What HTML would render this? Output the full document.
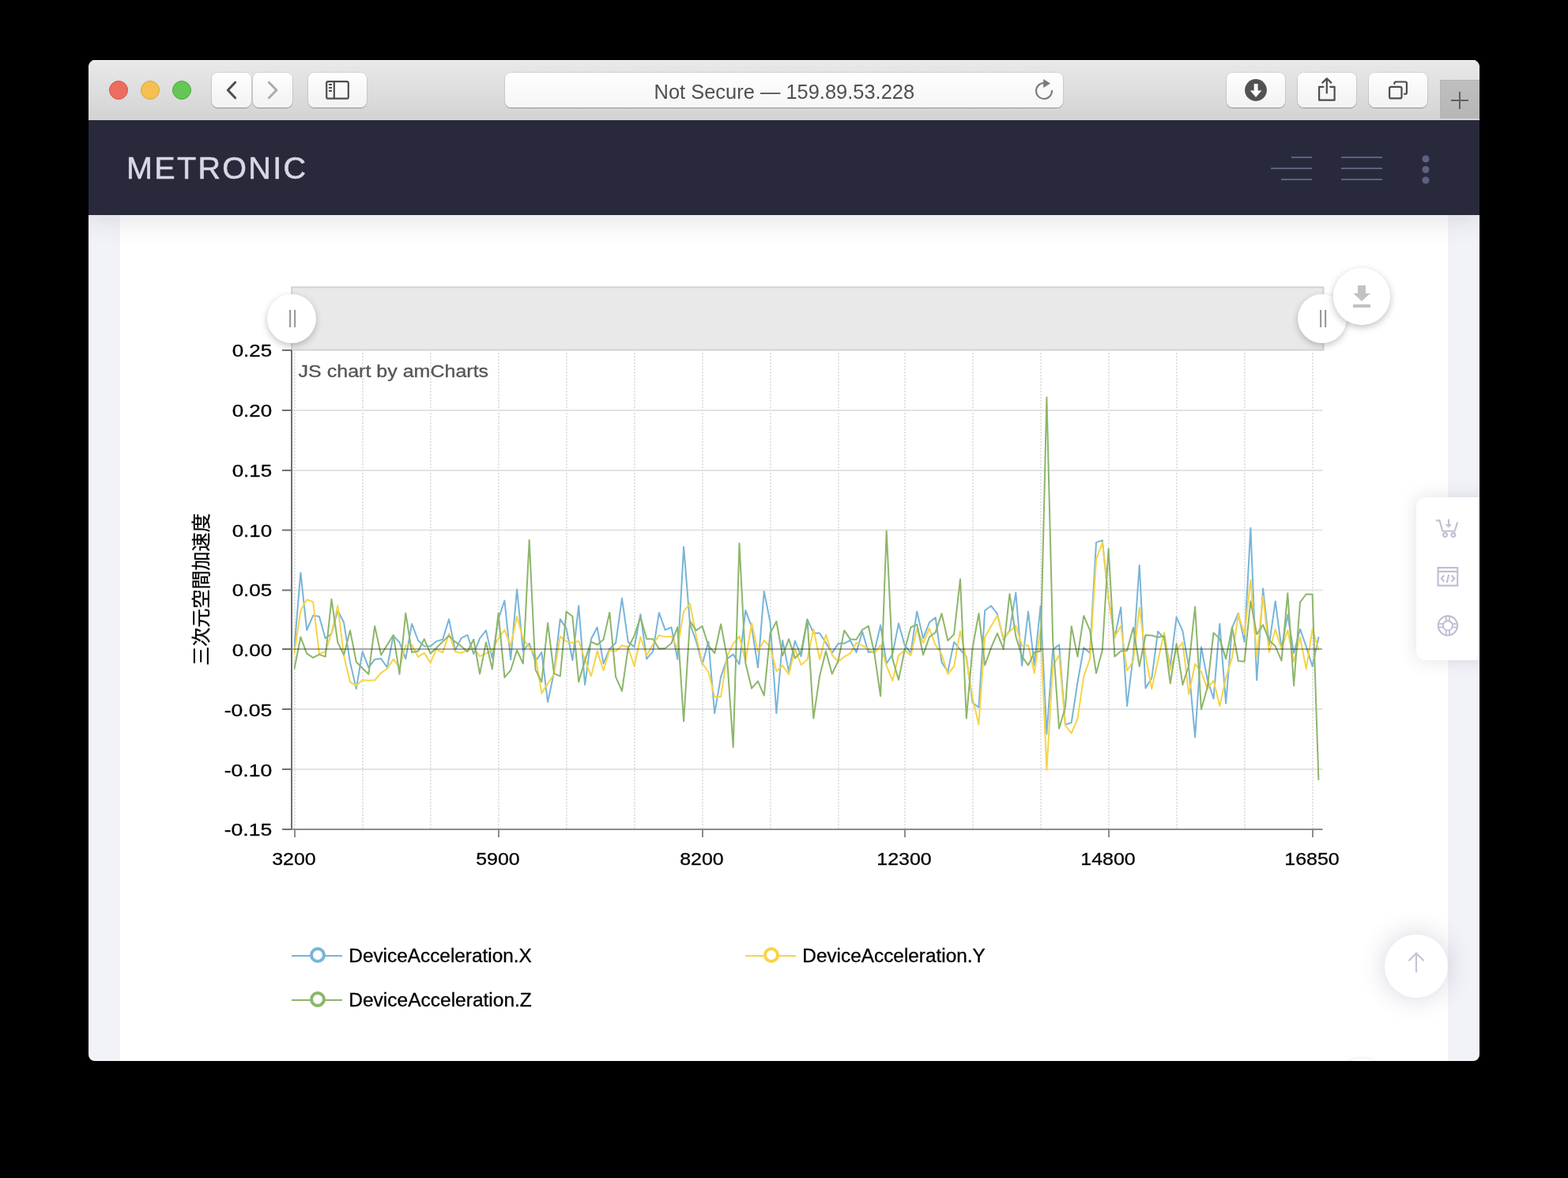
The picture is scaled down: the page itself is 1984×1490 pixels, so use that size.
<!DOCTYPE html>
<html><head><meta charset="utf-8"><title>Metronic</title>
<style>
html,body{margin:0;padding:0;background:#000;}
body{width:1984px;height:1490px;position:relative;overflow:hidden;font-family:"Liberation Sans",sans-serif;}
.win{position:absolute;left:112px;top:76px;width:1760px;height:1266px;border-radius:8.500px 8.500px 8px 8px;overflow:hidden;background:#f2f3f8;}
.tb{position:absolute;left:0;top:0;width:1760px;height:76px;background:linear-gradient(#e9e9e9,#d3d3d3);box-shadow:inset 0 1px 0 #f6f6f6;}
.tl{position:absolute;top:26px;width:22px;height:22px;border-radius:50%;border:1px solid;}
.btn{position:absolute;top:16px;height:44px;border-radius:8px;background:linear-gradient(#fefefe,#f2f2f2);box-shadow:0 1px 1px rgba(0,0,0,.28),0 0 0 1px rgba(0,0,0,.07);}
.nav{position:absolute;left:0;top:76px;width:1760px;height:120px;background:#282a3c;box-shadow:0 2px 34px 2px rgba(69,65,78,.16);}
.card{position:absolute;left:40px;top:196px;width:1680px;height:1100px;background:#fff;}
.abs{position:absolute;}
.circ{position:absolute;border-radius:50%;background:#fff;}
</style></head><body>
<div class="win">
  <div class="card"></div>
  <div class="circ" style="left:1575px;top:1263px;width:72px;height:72px;box-shadow:0 3px 9px rgba(0,0,0,.24);"></div>
</div>
<svg width="1984" height="1490" viewBox="0 0 1984 1490" style='position:absolute;left:0;top:0;will-change:transform;font-family:"Liberation Sans",sans-serif;'>
<rect x="369.2" y="363.3" width="1305.3" height="79.4" fill="#e9e9e9" stroke="#d4d4d4" stroke-width="2"/>
<line x1="370" x2="1673.5" y1="519" y2="519" stroke="#e3e3e3" stroke-width="2"/>
<line x1="370" x2="1673.5" y1="595" y2="595" stroke="#e3e3e3" stroke-width="2"/>
<line x1="370" x2="1673.5" y1="670.5" y2="670.5" stroke="#e3e3e3" stroke-width="2"/>
<line x1="370" x2="1673.5" y1="746.5" y2="746.5" stroke="#e3e3e3" stroke-width="2"/>
<line x1="370" x2="1673.5" y1="897" y2="897" stroke="#e3e3e3" stroke-width="2"/>
<line x1="370" x2="1673.5" y1="973" y2="973" stroke="#e3e3e3" stroke-width="2"/>
<line x1="373" x2="373" y1="442.3" y2="1048" stroke="#dfdfdf" stroke-width="2" stroke-dasharray="2 2"/>
<line x1="459" x2="459" y1="442.3" y2="1048" stroke="#dfdfdf" stroke-width="2" stroke-dasharray="2 2"/>
<line x1="545" x2="545" y1="442.3" y2="1048" stroke="#dfdfdf" stroke-width="2" stroke-dasharray="2 2"/>
<line x1="631" x2="631" y1="442.3" y2="1048" stroke="#dfdfdf" stroke-width="2" stroke-dasharray="2 2"/>
<line x1="717" x2="717" y1="442.3" y2="1048" stroke="#dfdfdf" stroke-width="2" stroke-dasharray="2 2"/>
<line x1="803" x2="803" y1="442.3" y2="1048" stroke="#dfdfdf" stroke-width="2" stroke-dasharray="2 2"/>
<line x1="889" x2="889" y1="442.3" y2="1048" stroke="#dfdfdf" stroke-width="2" stroke-dasharray="2 2"/>
<line x1="975" x2="975" y1="442.3" y2="1048" stroke="#dfdfdf" stroke-width="2" stroke-dasharray="2 2"/>
<line x1="1061" x2="1061" y1="442.3" y2="1048" stroke="#dfdfdf" stroke-width="2" stroke-dasharray="2 2"/>
<line x1="1145" x2="1145" y1="442.3" y2="1048" stroke="#dfdfdf" stroke-width="2" stroke-dasharray="2 2"/>
<line x1="1231" x2="1231" y1="442.3" y2="1048" stroke="#dfdfdf" stroke-width="2" stroke-dasharray="2 2"/>
<line x1="1317" x2="1317" y1="442.3" y2="1048" stroke="#dfdfdf" stroke-width="2" stroke-dasharray="2 2"/>
<line x1="1403" x2="1403" y1="442.3" y2="1048" stroke="#dfdfdf" stroke-width="2" stroke-dasharray="2 2"/>
<line x1="1489" x2="1489" y1="442.3" y2="1048" stroke="#dfdfdf" stroke-width="2" stroke-dasharray="2 2"/>
<line x1="1575" x2="1575" y1="442.3" y2="1048" stroke="#dfdfdf" stroke-width="2" stroke-dasharray="2 2"/>
<line x1="1661" x2="1661" y1="442.3" y2="1048" stroke="#dfdfdf" stroke-width="2" stroke-dasharray="2 2"/>
<polyline points="372.6,817.5 380.4,724.4 388.2,797.0 396.1,778.6 403.9,779.8 411.7,807.4 419.5,801.6 427.3,772.2 435.1,787.3 443.0,837.6 450.8,871.2 458.6,824.2 466.4,844.3 474.2,833.9 482.1,833.1 489.9,844.3 497.7,804.1 505.5,812.5 513.3,833.4 521.1,789.0 529.0,810.0 536.8,817.2 544.6,817.5 552.4,811.1 560.2,808.8 568.1,783.1 575.9,822.5 583.7,807.1 591.5,803.2 599.3,827.2 607.1,807.4 615.0,797.4 622.8,832.6 630.6,783.1 638.4,759.6 646.2,834.3 654.1,745.4 661.9,823.4 669.7,813.8 677.5,836.8 685.3,825.1 693.1,888.0 701.0,850.2 708.8,783.1 716.6,794.9 724.4,835.1 732.2,766.3 740.1,866.2 747.9,808.3 755.7,793.5 763.5,839.3 771.3,820.9 779.1,813.3 787.0,756.8 794.8,812.1 802.6,818.3 810.4,776.9 818.2,833.4 826.1,824.2 833.9,775.1 841.7,796.9 849.5,793.5 857.3,833.9 865.1,691.7 873.0,789.0 880.8,810.8 888.6,840.2 896.4,811.6 904.2,902.2 912.1,856.1 919.9,833.4 927.7,827.6 935.5,840.2 943.3,771.9 951.1,793.2 959.0,844.3 966.8,747.9 974.6,787.3 982.4,902.2 990.2,810.0 998.1,849.4 1005.9,810.5 1013.7,830.1 1021.5,783.4 1029.3,800.7 1037.1,800.7 1045.0,813.3 1052.8,825.9 1060.6,814.1 1068.2,813.8 1075.9,810.0 1083.5,825.1 1091.1,799.0 1098.8,825.1 1106.4,824.2 1114.1,790.7 1121.7,839.3 1129.3,827.6 1137.0,788.6 1144.6,815.8 1152.4,825.9 1160.2,773.4 1168.1,807.4 1175.9,787.3 1183.7,781.1 1191.5,837.6 1199.3,849.4 1207.1,812.1 1215.0,821.7 1222.8,830.9 1230.6,888.8 1238.4,894.7 1246.2,772.2 1254.1,766.3 1261.9,776.4 1269.7,809.1 1277.5,797.4 1285.3,749.6 1293.1,841.8 1301.0,773.4 1308.8,841.8 1316.6,766.3 1324.4,928.3 1332.2,821.7 1340.1,815.5 1347.9,916.5 1355.7,914.0 1363.5,862.8 1371.3,819.2 1379.1,825.9 1387.0,686.1 1394.8,683.4 1402.6,757.1 1410.4,806.6 1418.2,768.3 1426.1,893.0 1433.9,829.2 1441.7,714.9 1449.5,870.4 1457.3,857.8 1465.1,798.7 1473.0,807.4 1480.8,841.8 1488.6,780.6 1496.4,798.2 1504.2,844.3 1512.1,932.4 1519.9,818.3 1527.7,859.4 1535.5,883.8 1543.3,789.0 1551.1,889.6 1559.0,794.0 1566.8,775.7 1574.6,812.1 1582.4,667.7 1590.2,860.3 1598.1,744.4 1605.9,815.6 1613.7,760.4 1621.5,820.3 1629.3,777.6 1637.1,826.2 1645.0,795.7 1652.8,818.0 1660.6,842.7 1668.4,806.2" fill="none" stroke="#78b5d8" stroke-width="2" stroke-linejoin="round" stroke-linecap="round"/>
<polyline points="372.6,825.1 380.4,772.2 388.2,758.4 396.1,761.3 403.9,826.7 411.7,824.2 419.5,800.7 427.3,766.3 435.1,829.2 443.0,862.8 450.8,867.0 458.6,860.3 466.4,860.8 474.2,860.3 482.1,851.1 489.9,845.7 497.7,833.9 505.5,844.3 513.3,816.2 521.1,815.8 529.0,830.9 536.8,825.9 544.6,838.1 552.4,820.9 560.2,825.6 568.1,801.2 575.9,824.2 583.7,825.9 591.5,822.5 599.3,819.5 607.1,830.1 615.0,826.7 622.8,821.7 630.6,807.4 638.4,796.9 646.2,816.7 654.1,779.8 661.9,808.3 669.7,818.3 677.5,829.2 685.3,877.1 693.1,864.5 701.0,852.7 708.8,804.9 716.6,811.6 724.4,813.3 732.2,810.8 740.1,834.3 747.9,855.3 755.7,823.4 763.5,848.0 771.3,822.5 779.1,823.7 787.0,816.3 794.8,818.8 802.6,842.7 810.4,805.8 818.2,829.2 826.1,815.0 833.9,803.6 841.7,805.4 849.5,804.9 857.3,820.0 865.1,773.4 873.0,763.3 880.8,804.1 888.6,838.5 896.4,850.2 904.2,881.3 912.1,881.3 919.9,830.1 927.7,814.1 935.5,804.9 943.3,836.0 951.1,788.1 959.0,824.2 966.8,810.0 974.6,818.3 982.4,849.0 990.2,841.8 998.1,853.1 1005.9,820.9 1013.7,841.0 1021.5,834.3 1029.3,795.7 1037.1,833.9 1045.0,802.7 1052.8,828.4 1060.6,836.8 1068.2,830.9 1075.9,826.2 1083.5,813.0 1091.1,816.7 1098.8,820.5 1106.4,826.7 1114.1,816.2 1121.7,841.8 1129.3,861.1 1137.0,829.2 1144.6,822.5 1152.4,828.9 1160.2,795.7 1168.1,813.3 1175.9,794.9 1183.7,815.8 1191.5,827.6 1199.3,852.7 1207.1,843.0 1215.0,798.2 1222.8,834.3 1230.6,882.9 1238.4,916.3 1246.2,805.8 1254.1,792.0 1261.9,778.6 1269.7,807.4 1277.5,799.0 1285.3,791.2 1293.1,816.7 1301.0,816.2 1308.8,851.4 1316.6,795.7 1324.4,973.9 1332.2,842.7 1340.1,828.4 1347.9,917.3 1355.7,927.5 1363.5,908.9 1371.3,855.3 1379.1,833.4 1387.0,707.6 1394.8,686.1 1402.6,757.1 1410.4,805.8 1418.2,791.8 1426.1,848.2 1433.9,836.0 1441.7,768.3 1449.5,829.2 1457.3,871.2 1465.1,836.0 1473.0,799.9 1480.8,846.9 1488.6,822.5 1496.4,812.5 1504.2,877.9 1512.1,839.8 1519.9,849.4 1527.7,871.2 1535.5,860.8 1543.3,893.0 1551.1,857.8 1559.0,831.8 1566.8,776.9 1574.6,802.2 1582.4,733.4 1590.2,830.4 1598.1,753.8 1605.9,825.0 1613.7,796.1 1621.5,821.0 1629.3,797.3 1637.1,836.8 1645.0,806.2 1652.8,846.2 1660.6,795.7 1668.4,821.5" fill="none" stroke="#f6d447" stroke-width="2" stroke-linejoin="round" stroke-linecap="round"/>
<polyline points="372.6,845.2 380.4,805.8 388.2,826.7 396.1,831.8 403.9,827.9 411.7,830.6 419.5,757.9 427.3,812.5 435.1,828.4 443.0,797.4 450.8,837.3 458.6,845.2 466.4,852.7 474.2,792.0 482.1,828.4 489.9,815.8 497.7,803.2 505.5,852.7 513.3,775.6 521.1,825.1 529.0,823.7 536.8,808.3 544.6,826.7 552.4,819.2 560.2,811.6 568.1,804.1 575.9,811.6 583.7,817.5 591.5,824.2 599.3,808.8 607.1,852.4 615.0,812.5 622.8,846.4 630.6,775.6 638.4,856.9 646.2,847.7 654.1,822.5 661.9,839.3 669.7,683.0 677.5,846.9 685.3,862.5 693.1,788.1 701.0,851.9 708.8,855.3 716.6,773.4 724.4,779.8 732.2,862.5 740.1,835.6 747.9,811.6 755.7,815.5 763.5,809.1 771.3,774.7 779.1,856.1 787.0,874.0 794.8,819.2 802.6,804.1 810.4,780.6 818.2,808.3 826.1,808.3 833.9,820.5 841.7,820.0 849.5,813.8 857.3,793.2 865.1,912.3 873.0,785.6 880.8,797.4 888.6,792.0 896.4,816.7 904.2,826.2 912.1,789.5 919.9,830.9 927.7,945.1 935.5,687.2 943.3,838.5 951.1,870.7 959.0,861.6 966.8,879.6 974.6,800.7 982.4,786.0 990.2,829.2 998.1,808.3 1005.9,832.6 1013.7,824.2 1021.5,783.4 1029.3,908.6 1037.1,855.3 1045.0,823.4 1052.8,852.4 1060.6,836.0 1068.2,797.4 1075.9,808.6 1083.5,809.1 1091.1,796.5 1098.8,791.8 1106.4,826.7 1114.1,880.4 1121.7,671.6 1129.3,833.4 1137.0,859.9 1144.6,822.5 1152.4,793.5 1160.2,789.8 1168.1,828.4 1175.9,805.8 1183.7,799.9 1191.5,776.1 1199.3,810.3 1207.1,802.4 1215.0,732.4 1222.8,908.6 1230.6,819.2 1238.4,776.1 1246.2,841.5 1254.1,819.2 1261.9,801.1 1269.7,820.9 1277.5,751.2 1285.3,804.9 1293.1,830.1 1301.0,841.5 1308.8,825.1 1316.6,823.4 1324.4,502.6 1332.2,810.8 1340.1,921.5 1347.9,894.7 1355.7,792.3 1363.5,830.6 1371.3,778.9 1379.1,797.4 1387.0,851.4 1394.8,822.5 1402.6,693.9 1410.4,830.6 1418.2,823.4 1426.1,823.0 1433.9,793.7 1441.7,843.0 1449.5,803.2 1457.3,803.7 1465.1,806.1 1473.0,804.6 1480.8,864.5 1488.6,814.1 1496.4,866.2 1504.2,841.8 1512.1,767.5 1519.9,897.2 1527.7,869.8 1535.5,800.4 1543.3,807.9 1551.1,833.4 1559.0,793.5 1566.8,836.1 1574.6,836.8 1582.4,760.4 1590.2,802.2 1598.1,790.3 1605.9,809.8 1613.7,817.3 1621.5,835.6 1629.3,750.3 1637.1,867.3 1645.0,761.6 1652.8,751.5 1660.6,751.7 1668.4,986.0" fill="none" stroke="#8db66a" stroke-width="2" stroke-linejoin="round" stroke-linecap="round"/>
<line x1="370" x2="1673" y1="821" y2="821" stroke="#000" stroke-opacity="0.34" stroke-width="2"/>
<line x1="369" x2="369" y1="443" y2="1050" stroke="#707070" stroke-width="2"/>
<line x1="368" x2="1673.5" y1="1049" y2="1049" stroke="#8c8c8c" stroke-width="2"/>
<line x1="357" x2="369" y1="443" y2="443" stroke="#707070" stroke-width="2"/>
<line x1="357" x2="369" y1="519" y2="519" stroke="#707070" stroke-width="2"/>
<line x1="357" x2="369" y1="595" y2="595" stroke="#707070" stroke-width="2"/>
<line x1="357" x2="369" y1="670.5" y2="670.5" stroke="#707070" stroke-width="2"/>
<line x1="357" x2="369" y1="746.5" y2="746.5" stroke="#707070" stroke-width="2"/>
<line x1="357" x2="369" y1="821" y2="821" stroke="#707070" stroke-width="2"/>
<line x1="357" x2="369" y1="897" y2="897" stroke="#707070" stroke-width="2"/>
<line x1="357" x2="369" y1="973" y2="973" stroke="#707070" stroke-width="2"/>
<line x1="357" x2="369" y1="1049" y2="1049" stroke="#707070" stroke-width="2"/>
<line x1="373.0" x2="373.0" y1="1049" y2="1059" stroke="#8c8c8c" stroke-width="2"/>
<line x1="631.0" x2="631.0" y1="1049" y2="1059" stroke="#8c8c8c" stroke-width="2"/>
<line x1="889.0" x2="889.0" y1="1049" y2="1059" stroke="#8c8c8c" stroke-width="2"/>
<line x1="1145.0" x2="1145.0" y1="1049" y2="1059" stroke="#8c8c8c" stroke-width="2"/>
<line x1="1403.0" x2="1403.0" y1="1049" y2="1059" stroke="#8c8c8c" stroke-width="2"/>
<line x1="1661.0" x2="1661.0" y1="1049" y2="1059" stroke="#8c8c8c" stroke-width="2"/>
<text x="344.2" y="451.4" font-size="22.5" fill="#000" stroke="#000" stroke-width="0.3" text-anchor="end" textLength="50.5" lengthAdjust="spacingAndGlyphs" >0.25</text>
<text x="344.2" y="527.15" font-size="22.5" fill="#000" stroke="#000" stroke-width="0.3" text-anchor="end" textLength="50.5" lengthAdjust="spacingAndGlyphs" >0.20</text>
<text x="344.2" y="602.9" font-size="22.5" fill="#000" stroke="#000" stroke-width="0.3" text-anchor="end" textLength="50.5" lengthAdjust="spacingAndGlyphs" >0.15</text>
<text x="344.2" y="678.65" font-size="22.5" fill="#000" stroke="#000" stroke-width="0.3" text-anchor="end" textLength="50.5" lengthAdjust="spacingAndGlyphs" >0.10</text>
<text x="344.2" y="754.4" font-size="22.5" fill="#000" stroke="#000" stroke-width="0.3" text-anchor="end" textLength="50.5" lengthAdjust="spacingAndGlyphs" >0.05</text>
<text x="344.2" y="830.15" font-size="22.5" fill="#000" stroke="#000" stroke-width="0.3" text-anchor="end" textLength="50.5" lengthAdjust="spacingAndGlyphs" >0.00</text>
<text x="344.2" y="905.9" font-size="22.5" fill="#000" stroke="#000" stroke-width="0.3" text-anchor="end" textLength="60.5" lengthAdjust="spacingAndGlyphs" >-0.05</text>
<text x="344.2" y="981.65" font-size="22.5" fill="#000" stroke="#000" stroke-width="0.3" text-anchor="end" textLength="60.5" lengthAdjust="spacingAndGlyphs" >-0.10</text>
<text x="344.2" y="1057.4" font-size="22.5" fill="#000" stroke="#000" stroke-width="0.3" text-anchor="end" textLength="60.5" lengthAdjust="spacingAndGlyphs" >-0.15</text>
<text x="372" y="1094.3" font-size="22.5" fill="#000" stroke="#000" stroke-width="0.3" text-anchor="middle" textLength="55.5" lengthAdjust="spacingAndGlyphs" >3200</text>
<text x="630" y="1094.3" font-size="22.5" fill="#000" stroke="#000" stroke-width="0.3" text-anchor="middle" textLength="55.5" lengthAdjust="spacingAndGlyphs" >5900</text>
<text x="888" y="1094.3" font-size="22.5" fill="#000" stroke="#000" stroke-width="0.3" text-anchor="middle" textLength="55.5" lengthAdjust="spacingAndGlyphs" >8200</text>
<text x="1144" y="1094.3" font-size="22.5" fill="#000" stroke="#000" stroke-width="0.3" text-anchor="middle" textLength="69.5" lengthAdjust="spacingAndGlyphs" >12300</text>
<text x="1402" y="1094.3" font-size="22.5" fill="#000" stroke="#000" stroke-width="0.3" text-anchor="middle" textLength="69.5" lengthAdjust="spacingAndGlyphs" >14800</text>
<text x="1660" y="1094.3" font-size="22.5" fill="#000" stroke="#000" stroke-width="0.3" text-anchor="middle" textLength="69.5" lengthAdjust="spacingAndGlyphs" >16850</text>
<text x="377.6" y="477" font-size="22.5" fill="#555" stroke="#555" stroke-width="0.3" text-anchor="start" textLength="240.5" lengthAdjust="spacingAndGlyphs" >JS chart by amCharts</text>
<text transform="translate(262.8,841.8) rotate(-90)" x="0" y="0" font-size="24.07" fill="#000" stroke="#000" stroke-width="0.3" text-anchor="start" textLength="192.5" lengthAdjust="spacingAndGlyphs" style='font-family:"Liberation Sans","Noto Sans CJK JP",sans-serif;'>三次元空間加速度</text>
<line x1="369" x2="433" y1="1209" y2="1209" stroke="#78b5d8" stroke-width="2"/>
<circle cx="402" cy="1208" r="8" fill="#fff" stroke="#78b5d8" stroke-width="4"/>
<text x="441.3" y="1217.2" font-size="23" fill="#000" stroke="#000" stroke-width="0.3" text-anchor="start" textLength="231.5" lengthAdjust="spacingAndGlyphs" >DeviceAcceleration.X</text>
<line x1="943" x2="1007" y1="1209" y2="1209" stroke="#f6d447" stroke-width="2"/>
<circle cx="976" cy="1208" r="8" fill="#fff" stroke="#f6d447" stroke-width="4"/>
<text x="1015.3" y="1217.2" font-size="23" fill="#000" stroke="#000" stroke-width="0.3" text-anchor="start" textLength="231.5" lengthAdjust="spacingAndGlyphs" >DeviceAcceleration.Y</text>
<line x1="369" x2="433" y1="1265" y2="1265" stroke="#8db66a" stroke-width="2"/>
<circle cx="402" cy="1264" r="8" fill="#fff" stroke="#8db66a" stroke-width="4"/>
<text x="441.3" y="1273.2" font-size="23" fill="#000" stroke="#000" stroke-width="0.3" text-anchor="start" textLength="231.5" lengthAdjust="spacingAndGlyphs" >DeviceAcceleration.Z</text>
</svg>
<!-- chart floating controls -->
<div class="circ" style="left:338px;top:372px;width:62px;height:62px;box-shadow:0 3px 9px rgba(0,0,0,.24);"></div>
<div class="circ" style="left:1642px;top:372px;width:62px;height:62px;box-shadow:0 3px 9px rgba(0,0,0,.24);"></div>
<div class="circ" style="left:1687px;top:339px;width:72px;height:72px;background:rgba(255,255,255,.93);box-shadow:0 3px 10px rgba(0,0,0,.25);"></div>
<svg class="abs" style="left:0;top:0" width="1984" height="1490" viewBox="0 0 1984 1490">
  <g fill="#9b9b9b"><rect x="366" y="392" width="2.2" height="22"/><rect x="372" y="392" width="2.2" height="22"/>
  <rect x="1670" y="392" width="2.2" height="22"/><rect x="1676" y="392" width="2.2" height="22"/></g>
  <path d="M1718 361h10v10h5.8L1723 381l-10.6-10H1718z M1712 385h22v4h-22z" fill="#c2c2c2"/>
</svg>
<div class="win" style="background:transparent;pointer-events:none">
  <!-- right sticky toolbar -->
  <div class="abs" style="left:1680px;top:553px;width:100px;height:206px;border-radius:12px;background:#fff;box-shadow:0 0 22px 0 rgba(82,63,105,.17);"></div>
  <svg class="abs" style="left:1690px;top:560px" width="70" height="200" viewBox="1802 636 70 200" fill="none" stroke="#c1bdd5" stroke-width="2.15" stroke-linecap="round" stroke-linejoin="round">
    <!-- cart -->
    <path d="M1817.900 658.300h3.600l3.800 13.450h15.300l3.350-10.450"/><circle cx="1828.500" cy="676.600" r="2.400"/><circle cx="1838.850" cy="676.600" r="2.400"/>
    <path d="M1833 657.600v6"/><path d="M1829.200 663.400h7.700l-3.850 3.700z" fill="#c1bdd5" stroke-width="0.600"/>
    <!-- code window -->
    <g stroke-linecap="butt" stroke-linejoin="miter"><rect x="1819.600" y="718.100" width="24.600" height="22.600"/><path d="M1819.600 722.900h24.600"/></g>
    <path d="M1827.400 727.700l-3.600 3.900 3.600 4.200M1836.600 727.700l3.700 3.900-3.700 4.200M1833.100 726.700l-2.300 10.200" stroke-width="2.100" stroke-linecap="butt" stroke-linejoin="miter"/>
    <!-- lifebuoy -->
    <circle cx="1831.900" cy="791.300" r="12.200"/><circle cx="1831.900" cy="791.300" r="6.100" stroke-width="1.900"/>
    <path d="M1829.800 779.500v5.800M1834 779.500v5.800M1829.800 797.300v5.800M1834 797.300v5.800M1820.100 789.200h5.800M1820.100 793.400h5.800M1837.900 789.200h5.800M1837.900 793.400h5.800" stroke-width="1.800" stroke-linecap="butt"/>
  </svg>
  <!-- scrolltop -->
  <div class="circ" style="left:1640px;top:1106px;width:80px;height:80px;box-shadow:0 0 30px 3px rgba(82,63,105,.19);"></div>
  <svg class="abs" style="left:1660px;top:1120px" width="40" height="50" viewBox="1772 1196 40 50" fill="none" stroke="#c6c3d8" stroke-width="2.2"><path d="M1792 1230v-24M1782.400 1215.200l9.600-9.400 9.600 9.400"/></svg>
  <div class="nav"></div>
  <svg class="abs" style="left:0;top:76px" width="1760" height="120" viewBox="112 152 1760 120">
    <text x="160" y="226.300" font-size="39.500" fill="#d8d8e5" stroke="#d8d8e5" stroke-width="0.6" text-anchor="start" textLength="227" lengthAdjust="spacing" style='font-family:"Liberation Sans",sans-serif;'>METRONIC</text>
    <g fill="#5e6080"><rect x="1634" y="198" width="26" height="2"/><rect x="1608" y="212" width="52" height="2"/><rect x="1621" y="226" width="39" height="2"/>
    <rect x="1697" y="198" width="52" height="2"/><rect x="1697" y="212" width="52" height="2"/><rect x="1697" y="226" width="52" height="2"/>
    <circle cx="1804" cy="201" r="4.500"/><circle cx="1804" cy="214.500" r="4.500"/><circle cx="1804" cy="228" r="4.500"/></g>
  </svg>
  <div class="tb">
    <div class="tl" style="left:26px;background:#ee6b60;border-color:#d5544a"></div>
    <div class="tl" style="left:66px;background:#f6c051;border-color:#d9a33d"></div>
    <div class="tl" style="left:106px;background:#63c655;border-color:#52a843"></div>
    <div class="btn" style="left:156px;width:50px"></div>
    <div class="btn" style="left:208px;width:50px"></div>
    <div class="btn" style="left:278px;width:74px"></div>
    <div class="btn" style="left:527px;width:706px;background:linear-gradient(#fefefe,#f6f6f6)"></div>
    <div class="btn" style="left:1440px;width:74px"></div>
    <div class="btn" style="left:1530px;width:74px"></div>
    <div class="btn" style="left:1620px;width:74px"></div>
    <div class="abs" style="left:1710px;top:24.800px;width:50px;height:49.200px;background:linear-gradient(#bfbfbf,#b6b6b6);box-shadow:inset 1px 1px 0 #b4b4b4;"></div>
    <svg class="abs" style="left:0;top:0;will-change:transform" width="1760" height="76" viewBox="112 76 1760 76" fill="none">
      <path d="M297.600 104.200L288.300 114l9.300 9.800" stroke="#4d4d4d" stroke-width="3" stroke-linecap="round" stroke-linejoin="round"/>
      <path d="M340.300 104.200L349.900 114l-9.600 9.800" stroke="#ababab" stroke-width="3" stroke-linecap="round" stroke-linejoin="round"/>
      <rect x="413.200" y="103.200" width="27.600" height="21.500" rx="2" stroke="#4d4d4d" stroke-width="2.200"/><path d="M422.800 103v22" stroke="#4d4d4d" stroke-width="2.200"/><path d="M416 107h4M416 111h4M416 115h4" stroke="#4d4d4d" stroke-width="1.800"/>
      <text x="827.600" y="124.500" font-size="25" fill="#505050" textLength="329.500" lengthAdjust="spacingAndGlyphs" style='font-family:"Liberation Sans",sans-serif;'>Not Secure — 159.89.53.228</text>
      <path d="M1331 114.200A10 10 0 1 1 1320.600 105" stroke="#7a7a7a" stroke-width="2.100"/><path d="M1320.200 100L1329 105.400L1320.200 110.900z" fill="#7a7a7a"/>
      <circle cx="1589" cy="114" r="13.900" fill="#525252"/><path d="M1586.700 106.100h4.900v8.300h4.700L1589.100 123.100l-7.300-8.700h4.900z" fill="#fff"/>
      <path d="M1674.500 109.800H1669.100V126.700H1688.600V109.800H1683.200M1678.800 117.600V99.600M1673.300 104.600L1678.800 99.200L1684.300 104.600" stroke="#4d4d4d" stroke-width="2.200" stroke-linejoin="round" stroke-linecap="round"/>
      <rect x="1758.100" y="109.800" width="15.400" height="14.600" rx="2" stroke="#4d4d4d" stroke-width="2.200"/><path d="M1764.400 106v-1a1.500 1.500 0 0 1 1.500-1.500h12.500a1.500 1.500 0 0 1 1.500 1.500v12.400a1.500 1.500 0 0 1-1.500 1.500h-1.300" stroke="#4d4d4d" stroke-width="2.200" stroke-linecap="round"/>
      <path d="M1836 127h22M1847 116v22" stroke="#606060" stroke-width="2"/>
    </svg>
  </div>
</div>
</body></html>
